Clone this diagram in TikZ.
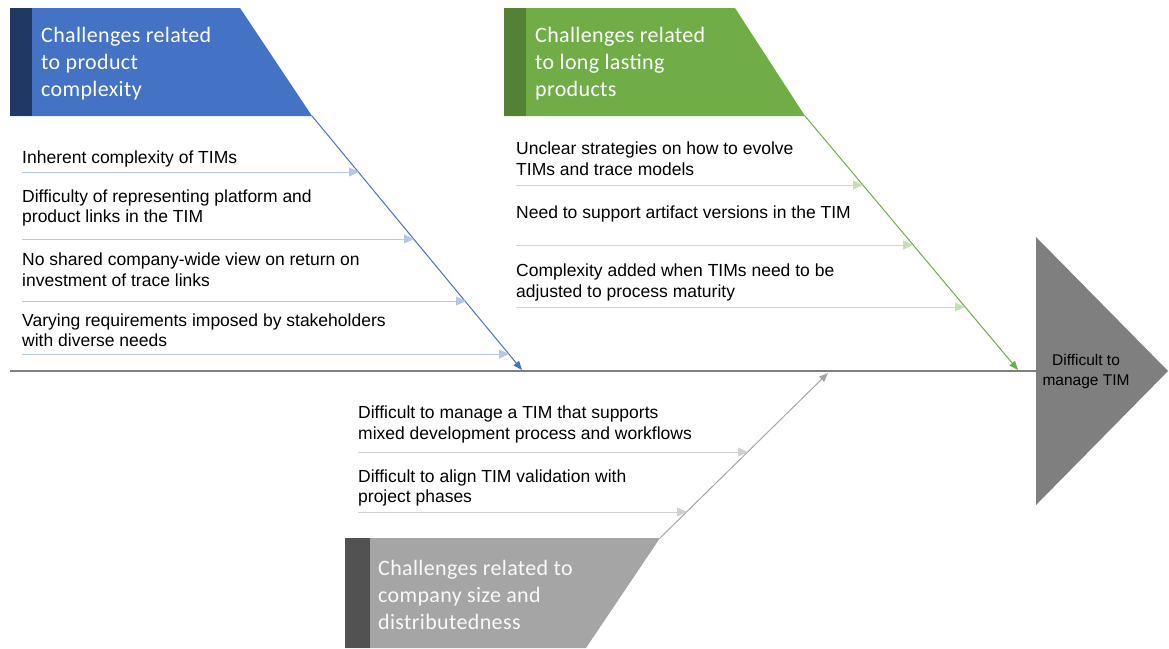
\documentclass[tikz,border=0pt]{standalone}
\usepackage{fontspec}
\setmainfont{Liberation Sans}
\newfontfamily\titlefont[LetterSpace=1.6]{Carlito}
\usetikzlibrary{arrows.meta}
\definecolor{cblue}{HTML}{4472C4}
\definecolor{cbluedark}{HTML}{203864}
\definecolor{cbluelight}{HTML}{B4C7E7}
\definecolor{cgreen}{HTML}{70AD47}
\definecolor{cgreendark}{HTML}{548235}
\definecolor{cgreenlight}{HTML}{C5E0B4}
\definecolor{cgray}{HTML}{A5A5A5}
\definecolor{cgraydark}{HTML}{525252}
\definecolor{cgraylight}{HTML}{D0D0D0}
\definecolor{chead}{HTML}{7F7F7F}
\definecolor{cspine}{HTML}{808080}
\begin{document}
\begin{tikzpicture}[x=1pt,y=-1pt,
  item/.style={anchor=west, align=left, inner sep=0pt, font=\fontsize{17.5}{20.5}\selectfont, text=black},
  title/.style={anchor=west, align=left, inner sep=0pt, font=\titlefont\fontsize{22}{27}\selectfont, text=white},
  bone/.style={line width=1pt, -{Triangle[length=9pt,width=7pt]}},
  sub/.style={line width=0.8pt, -{Triangle[length=10pt,width=9pt]}},
  spine/.style={draw=cspine, line width=1.6pt}
]
\useasboundingbox (0,0) rectangle (1169,648);

% head
\fill[chead] (1036,237) -- (1168,371) -- (1036,505) -- cycle;
\coordinate (headL) at (1036,371);
\node[anchor=center, align=center, inner sep=0pt, font=\fontsize{15.5}{20}\selectfont] (head) at (1086,371.5) {Difficult to\\manage TIM};
\coordinate (spineL) at (10,371);
\draw[spine] (spineL) -- (headL);

% ---------- blue category ----------
\fill[cblue] (10,8) -- (240,8) -- (312,116) -- (10,116) -- cycle;
\fill[cbluedark] (10,8) rectangle (32,116);
\node[title] (tb) at (41,64) {Challenges related\\to product\\complexity};
\coordinate (b0) at (312,116);
\coordinate (b1) at (522,370);
\draw[bone, cblue] (b0) -- (b1);

\node[item] (b1t) at (22,159) {Inherent complexity of TIMs};
\node[item] (b2t) at (22,208) {Difficulty of representing platform and\\product links in the TIM};
\node[item] (b3t) at (22,269.5) {No shared company-wide view on return on\\investment of trace links};
\node[item] (b4t) at (22,330) {Varying requirements imposed by stakeholders\\with diverse needs};
\coordinate (b1s) at (22,172);   \coordinate (b1e) at (359,172);
\coordinate (b2s) at (22,239);   \coordinate (b2e) at (414,239);
\coordinate (b3s) at (22,301);   \coordinate (b3e) at (466,301);
\coordinate (b4s) at (22,354);   \coordinate (b4e) at (509,354);
\draw[sub, cbluelight] (b1s) -- (b1e);
\draw[sub, cbluelight] (b2s) -- (b2e);
\draw[sub, cbluelight] (b3s) -- (b3e);
\draw[sub, cbluelight] (b4s) -- (b4e);

% ---------- green category ----------
\fill[cgreen] (504,8) -- (735,8) -- (805,116) -- (504,116) -- cycle;
\fill[cgreendark] (504,8) rectangle (526,116);
\node[title] (tg) at (535,64) {Challenges related\\to long lasting\\products};
\coordinate (g0) at (805,116);
\coordinate (g1) at (1018,370);
\draw[bone, cgreen] (g0) -- (g1);

\node[item] (g1t) at (516,158.5) {Unclear strategies on how to evolve\\TIMs and trace models};
\node[item] (g2t) at (516,214) {Need to support artifact versions in the TIM};
\node[item] (g3t) at (516,282.5) {Complexity added when TIMs need to be\\adjusted to process maturity};
\coordinate (g1s) at (516,185);  \coordinate (g1e) at (863,185);
\coordinate (g2s) at (516,245);  \coordinate (g2e) at (913,245);
\coordinate (g3s) at (516,307);  \coordinate (g3e) at (965,307);
\draw[sub, cgreenlight] (g1s) -- (g1e);
\draw[sub, cgreenlight] (g2s) -- (g2e);
\draw[sub, cgreenlight] (g3s) -- (g3e);

% ---------- gray category ----------
\fill[cgray] (345,538) -- (660,538) -- (586,648) -- (345,648) -- cycle;
\fill[cgraydark] (345,538) rectangle (370,648);
\node[title, text=white!95!gray] (tc) at (378,595) {Challenges related to\\company size and\\distributedness};
\coordinate (c0) at (660,538);
\coordinate (c1) at (828,373);
\draw[bone, cgray] (c0) -- (c1);

\node[item] (c1t) at (358,424.5) {Difficult to manage a TIM that supports\\mixed development process and workflows};
\node[item] (c2t) at (358,488) {Difficult to align TIM validation with\\project phases};
\coordinate (c1s) at (358,452);  \coordinate (c1e) at (748,452);
\coordinate (c2s) at (358,512);  \coordinate (c2e) at (687,512);
\draw[sub, cgraylight] (c1s) -- (c1e);
\draw[sub, cgraylight] (c2s) -- (c2e);
\end{tikzpicture}
\end{document}
